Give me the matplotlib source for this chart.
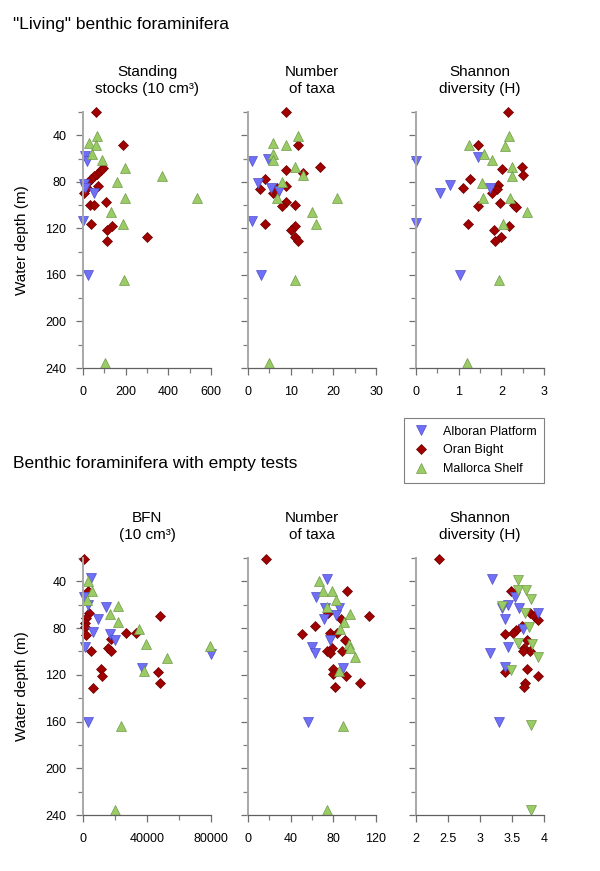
import matplotlib
matplotlib.use('Agg')
import matplotlib.pyplot as plt
from matplotlib.lines import Line2D
import numpy as np

plt.rcParams['font.family'] = ['Liberation Sans', 'DejaVu Sans']

# ---- "Living" benthic foraminifera: (value, water depth) ----
stock_alb = [(10, 58), (20, 62), (3, 82), (8, 85), (53, 90), (2, 114), (22, 160)]
stock_oran = [(60, 20), (186, 48), (95, 68), (83, 70), (67, 73), (52, 75), (36, 78), (22, 80),
              (17, 85), (6, 90), (72, 84), (33, 100), (53, 100), (108, 97), (37, 116),
              (134, 118), (114, 121), (111, 131), (298, 127)]
stock_mall = [(64, 41), (30, 47), (61, 48), (44, 56), (88, 61), (197, 68), (369, 75), (158, 80),
              (197, 94), (536, 94), (131, 106), (189, 116), (192, 164), (103, 236)]

taxa_alb = [(0.9, 62), (4.6, 60), (2.4, 81), (5.5, 85), (7.3, 88), (0.9, 114), (3.0, 160)]
taxa_oran = [(8.9, 20), (11.8, 48), (8.9, 70), (13, 72), (16.9, 67), (4.0, 78), (2.8, 86),
             (8.9, 84), (6.7, 85), (5.9, 90), (8.9, 97), (7.9, 101), (11, 100), (4.0, 116),
             (11, 118), (10, 121), (11, 127), (11.8, 131), (6.5, 88)]
taxa_mall = [(11.8, 41), (5.9, 47), (8.9, 48), (5.9, 56), (5.9, 61), (10.9, 67), (13, 74),
             (7.9, 80), (6.7, 94), (20.8, 94), (14.9, 106), (15.9, 116), (10.9, 164), (4.9, 236)]

shan_alb = [(0.0, 62), (1.46, 59), (0.80, 83), (0.57, 90), (1.73, 85), (0.0, 115), (1.03, 160)]
shan_oran = [(2.16, 20), (1.46, 48), (2.02, 69), (2.49, 67), (2.51, 74), (1.27, 78), (1.10, 85),
             (1.93, 83), (1.89, 86), (1.79, 90), (1.97, 98), (1.46, 101), (2.29, 100),
             (2.34, 102), (1.23, 116), (2.18, 118), (1.83, 121), (2.0, 127), (1.85, 131)]
shan_mall = [(1.25, 48), (1.59, 56), (1.79, 61), (2.18, 41), (2.08, 49), (2.24, 67), (2.26, 75),
             (1.54, 81), (1.56, 94), (2.21, 94), (2.59, 106), (2.04, 116), (1.95, 164), (1.19, 236)]

# ---- Benthic foraminifera with empty tests ----
bfn_alb = [(5200, 37), (500, 53), (3100, 60), (14600, 62), (9400, 72), (6200, 83), (17100, 85),
           (19800, 90), (1000, 96), (37100, 114), (80000, 102), (3000, 160)]
bfn_oran = [(500, 21), (3100, 48), (3800, 67), (2100, 71), (1000, 76), (1000, 79), (1700, 86),
            (4900, 100), (17600, 89), (27100, 84), (32900, 84), (48300, 70), (15600, 97),
            (17700, 100), (11400, 115), (11800, 121), (6200, 131), (46900, 118), (48300, 127)]
bfn_mall = [(3100, 40), (5600, 48), (2500, 56), (21900, 61), (17100, 68), (21900, 75),
            (35000, 81), (39200, 94), (52500, 106), (38200, 117), (79600, 95), (23500, 164),
            (19800, 236)]

etaxa_alb = [(73.8, 38), (63.8, 53), (72.2, 63), (85.6, 63), (71.6, 72), (82.5, 69), (76.9, 90),
             (59.7, 96), (63, 101), (89.4, 114), (56, 160)]
etaxa_oran = [(16.9, 21), (93, 48), (113, 70), (62.8, 78), (50.3, 85), (75.3, 67), (86.9, 72),
              (76.9, 84), (83, 84), (91, 90), (78.4, 97), (87.8, 100), (73.8, 100), (76.9, 101),
              (80, 115), (80, 119), (91.9, 121), (81.6, 130), (105, 127)]
etaxa_mall = [(66.9, 40), (70, 48), (78.4, 48), (82.5, 56), (74.4, 62), (96, 68), (90, 75),
              (86, 81), (95, 94), (95.6, 97), (100, 105), (85.6, 117), (89, 164), (74, 236)]

eshan_alb = [(3.18, 38), (3.55, 53), (3.44, 60), (3.34, 63), (3.61, 63), (3.39, 72), (3.91, 67),
             (3.67, 81), (3.44, 96), (3.16, 101), (3.39, 113), (3.3, 160)]
eshan_oran = [(2.36, 21), (3.48, 48), (3.78, 67), (3.84, 70), (3.91, 73), (3.65, 78), (3.57, 82),
              (3.52, 84), (3.39, 85), (3.73, 90), (3.68, 97), (3.78, 100), (3.67, 100),
              (3.74, 115), (3.39, 118), (3.90, 121), (3.70, 127), (3.68, 130)]
eshan_mall = [(3.60, 39), (3.60, 47), (3.72, 47), (3.79, 55), (3.35, 61), (3.70, 67), (3.77, 79),
              (3.60, 93), (3.81, 94), (3.90, 105), (3.49, 116), (3.8, 163), (3.8, 236)]

titles_top = ['Standing\nstocks (10 cm³)', 'Number\nof taxa', 'Shannon\ndiversity (H)']
titles_bot = ['BFN\n(10 cm³)', 'Number\nof taxa', 'Shannon\ndiversity (H)']

BLUE = '#6f6ff7'
RED = '#a00000'
GREEN = '#9acb64'

fig = plt.figure(figsize=(6, 8.71), dpi=100)

W, H = 600.0, 871.0
lefts = [83, 248, 416]
pw = 128


def make_axes(top_px, bottom_px):
    axs = []
    for l in lefts:
        ax = fig.add_axes([l / W, 1 - bottom_px / H, pw / W, (bottom_px - top_px) / H])
        axs.append(ax)
    return axs


def style(ax, xlim, xmajor, xminor, xlabels, ylabels):
    ax.set_xlim(*xlim)
    ax.set_ylim(240, 20)
    ax.set_xticks(xmajor)
    ax.set_xticks(xminor, minor=True)
    ax.set_xticklabels(xlabels, fontsize=9)
    ax.set_yticks(np.arange(40, 241, 40))
    ax.set_yticks(np.arange(20, 221, 40), minor=True)
    if ylabels:
        ax.set_yticklabels([str(v) for v in range(40, 241, 40)], fontsize=9)
        ax.set_ylabel('Water depth (m)', fontsize=11, labelpad=12)
    else:
        ax.set_yticklabels([])
    for s in ['top', 'right']:
        ax.spines[s].set_visible(False)
    ax.spines['left'].set_color('#a8a8a8')
    ax.spines['left'].set_linewidth(1.4)
    ax.spines['bottom'].set_color('#606060')
    ax.spines['bottom'].set_linewidth(0.9)
    ax.tick_params(axis='both', which='major', direction='out', colors='#707070',
                   labelcolor='black', length=5, width=0.9)
    ax.tick_params(axis='both', which='minor', direction='out', colors='#808080',
                   length=3.5, width=0.9)
    ax.tick_params(axis='x', which='major', pad=8)
    ax.tick_params(axis='y', which='major', pad=7)


def draw(ax, alb, oran, mall, mall_marker='^'):
    for pts, mk, col, ec, ms in [(oran, 'D', RED, '#6a0000', 5.6),
                                 (alb, 'v', BLUE, '#5050c8', 7.8),
                                 (mall, mall_marker, GREEN, '#6f9a4a', 7.8)]:
        x, y = zip(*pts)
        ax.plot(x, y, linestyle='none', marker=mk, ms=ms, mfc=col, mec=ec, mew=0.5,
                clip_on=False)


top = make_axes(112, 368)
draw(top[0], stock_alb, stock_oran, stock_mall)
draw(top[1], taxa_alb, taxa_oran, taxa_mall)
draw(top[2], shan_alb, shan_oran, shan_mall)
style(top[0], (0, 600), [0, 200, 400, 600], [100, 300, 500], ['0', '200', '400', '600'], True)
style(top[1], (0, 30), [0, 10, 20, 30], [5, 15, 25], ['0', '10', '20', '30'], False)
style(top[2], (0, 3), [0, 1, 2, 3], [0.5, 1.5, 2.5], ['0', '1', '2', '3'], False)

bot = make_axes(558, 815)
draw(bot[0], bfn_alb, bfn_oran, bfn_mall)
draw(bot[1], etaxa_alb, etaxa_oran, etaxa_mall)
draw(bot[2], eshan_alb, eshan_oran, eshan_mall, mall_marker='v')
style(bot[0], (0, 80000), [0, 40000, 80000], [20000, 60000], ['0', '40000', '80000'], True)
style(bot[1], (0, 120), [0, 40, 80, 120], [20, 60, 100], ['0', '40', '80', '120'], False)
style(bot[2], (2, 4), [2, 2.5, 3, 3.5, 4], [], ['2', '2.5', '3', '3.5', '4'], False)

for ax, t in zip(top + bot, titles_top + titles_bot):
    ax.set_title(t, fontsize=11, pad=14, linespacing=1.2)

fig.text(13 / W, 1 - 25 / H, '"Living" benthic foraminifera', fontsize=12.5, va='center', ha='left')
fig.text(13 / W, 1 - 463 / H, 'Benthic foraminifera with empty tests', fontsize=12.5,
         va='center', ha='left')

handles = [Line2D([], [], ls='none', marker='v', ms=7.8, mfc=BLUE, mec='#5050c8', mew=0.5),
           Line2D([], [], ls='none', marker='D', ms=5.6, mfc=RED, mec='#6a0000', mew=0.5),
           Line2D([], [], ls='none', marker='^', ms=7.8, mfc=GREEN, mec='#6f9a4a', mew=0.5)]
leg = fig.legend(handles, ['Alboran Platform', 'Oran Bight', 'Mallorca Shelf'],
                 loc='upper left', bbox_to_anchor=(404 / W, 1 - 418 / H), borderaxespad=0,
                 fontsize=9, frameon=True, fancybox=False, framealpha=1, edgecolor='#808080',
                 handletextpad=1.0, labelspacing=0.55, borderpad=0.6, handlelength=1.5)
leg.get_frame().set_linewidth(0.8)

fig.savefig('out.png', dpi=100)
